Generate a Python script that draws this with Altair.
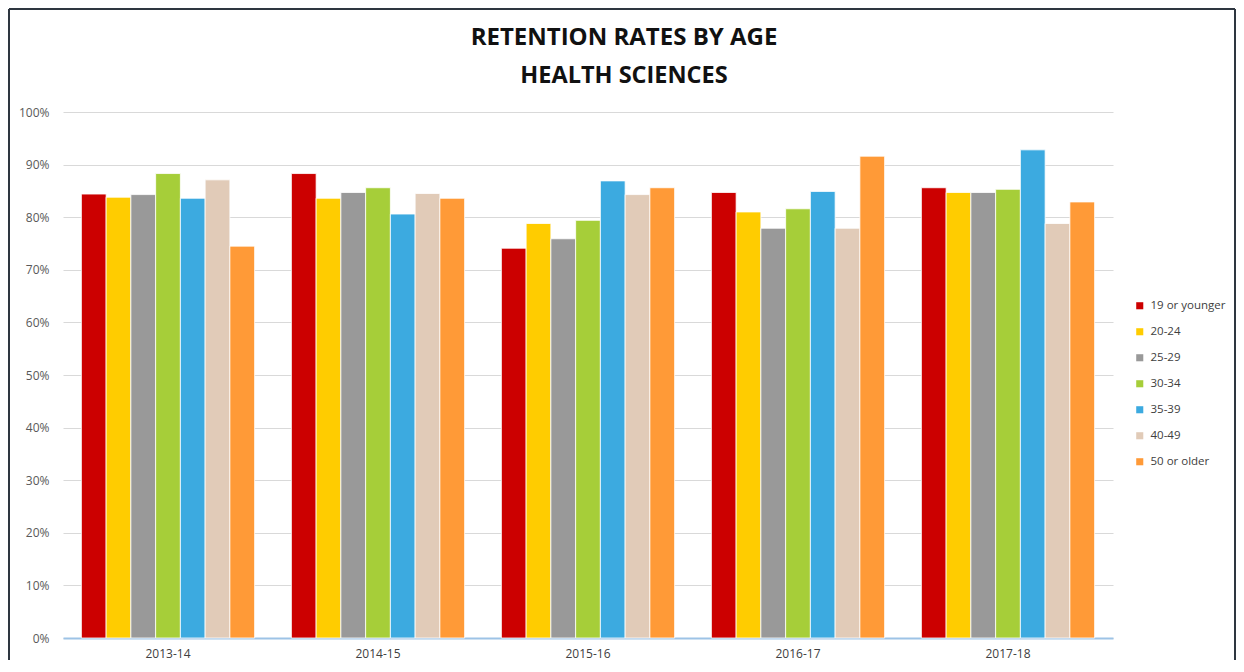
import altair as alt
import pandas as pd

years = ["2013-14", "2014-15", "2015-16", "2016-17", "2017-18"]
ages = ["19 or younger", "20-24", "25-29", "30-34", "35-39", "40-49", "50 or older"]
colors = ["#CC0000", "#FFCC00", "#999999", "#A6CE39", "#3CAAE0", "#E1CBB8", "#FF9A37"]

r_19_or_younger = [84.4, 88.3, 74.1, 84.7, 85.6]
r_20_24 = [83.8, 83.6, 78.8, 81.0, 84.7]
r_25_29 = [84.3, 84.7, 75.9, 77.9, 84.7]
r_30_34 = [88.3, 85.6, 79.4, 81.6, 85.3]
r_35_39 = [83.6, 80.6, 86.9, 84.9, 92.8]
r_40_49 = [87.1, 84.5, 84.3, 77.9, 78.8]
r_50_or_older = [74.5, 83.6, 85.6, 91.6, 82.9]

title_line1 = "RETENTION RATES BY AGE"
title_line2 = "HEALTH SCIENCES"

series = [r_19_or_younger, r_20_24, r_25_29, r_30_34, r_35_39, r_40_49, r_50_or_older]
rows = []
for age, vals in zip(ages, series):
    for yr, v in zip(years, vals):
        rows.append({"year": yr, "age": age, "value": v / 100.0})
df = pd.DataFrame(rows)

FONT = "Open Sans"

bars = alt.Chart(df).mark_bar(stroke="white", strokeWidth=0.8).encode(
    x=alt.X("year:N", sort=years, title=None,
            scale=alt.Scale(paddingInner=0.175, paddingOuter=0.0875),
            axis=alt.Axis(labelAngle=0, ticks=False, domainColor="#9DC3E6", domainWidth=2,
                          labelPadding=10, labelFontSize=12, labelColor="#404040", labelFont=FONT)),
    xOffset=alt.XOffset("age:N", sort=ages, scale=alt.Scale(paddingInner=0, paddingOuter=0)),
    y=alt.Y("value:Q", title=None,
            scale=alt.Scale(domain=[0, 1], nice=False),
            axis=alt.Axis(format=".0%", values=[i / 10 for i in range(11)], ticks=False, domain=False,
                          gridColor="#D9D9D9", gridWidth=1.2, labelPadding=14, labelFontSize=12,
                          labelColor="#595959", labelFont=FONT)),
    color=alt.Color("age:N", sort=ages, scale=alt.Scale(domain=ages, range=colors),
                    legend=alt.Legend(title=None, orient="none", legendX=1071, legendY=188,
                                      symbolType="square", symbolSize=50, symbolStrokeWidth=0,
                                      labelFontSize=11.5, labelColor="#404040", labelFont=FONT,
                                      rowPadding=13, labelOffset=5)),
)

t1 = alt.Chart(alt.Data(values=[{"t": title_line1}])).mark_text(
    font=FONT, fontSize=24, fontWeight="bold", color="#111111", align="center", baseline="middle"
).encode(text="t:N", x=alt.value(561), y=alt.value(-74))

t2 = alt.Chart(alt.Data(values=[{"t": title_line2}])).mark_text(
    font=FONT, fontSize=23.5, fontWeight="bold", color="#111111", align="center", baseline="middle"
).encode(text="t:N", x=alt.value(561), y=alt.value(-36))

one = alt.Data(values=[{"a": 1}])
frame_color = "#2E3640"
left = alt.Chart(one).mark_rule(color=frame_color, strokeWidth=2).encode(
    x=alt.value(-54), y=alt.value(-103), y2=alt.value(548))
right = alt.Chart(one).mark_rule(color=frame_color, strokeWidth=2).encode(
    x=alt.value(1172), y=alt.value(-103), y2=alt.value(548))
top = alt.Chart(one).mark_rule(color=frame_color, strokeWidth=2).encode(
    x=alt.value(-54), x2=alt.value(1172), y=alt.value(-103))

chart = alt.layer(bars, t1, t2, left, right, top).properties(
    width=1050, height=526, padding=0
).configure(background="white").configure_view(stroke=None)

chart.save("out.html", embed_options={"renderer": "svg", "actions": False})
